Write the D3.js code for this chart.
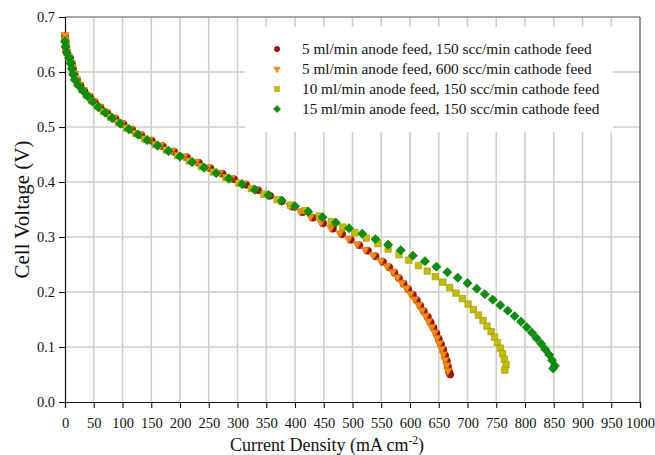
<!DOCTYPE html>
<html>
<head>
<meta charset="utf-8">
<script src="https://cdn.jsdelivr.net/npm/d3@7"></script>
<style>
  body { margin: 0; background: #fff; }
  svg text { font-family: "Liberation Serif", "Times New Roman", Times, serif; fill: #111; }
</style>
</head>
<body>
<svg id="chart" width="655" height="455"></svg>
<script>
// Axis ticks
const xTickValues = [0, 50, 100, 150, 200, 250, 300, 350, 400, 450, 500, 550, 600, 650, 700, 750, 800, 850, 900, 950, 1000];
const yTickValues = [0.0, 0.1, 0.2, 0.3, 0.4, 0.5, 0.6, 0.7];
const yTickLabels = ["0.0", "0.1", "0.2", "0.3", "0.4", "0.5", "0.6", "0.7"];

// Series labels
const seriesNames = [
  "5 ml/min anode feed, 150 scc/min cathode feed",
  "5 ml/min anode feed, 600 scc/min cathode feed",
  "10 ml/min anode feed, 150 scc/min cathode feed",
  "15 ml/min anode feed, 150 scc/min cathode feed"
];

// 5 ml/min anode, 150 scc/min cathode: current density (mA cm-2) and cell voltage (V)
const a5c150Current = [0, 1, 1, 3, 9, 12, 14, 17, 21, 27, 34, 43, 52, 62, 74, 88, 102, 117, 133, 151, 170, 190, 212, 233, 253, 274, 294, 315, 336, 357, 377, 396, 413, 431, 449, 466, 482, 497, 512, 527, 540, 553, 564, 573, 581, 589, 597, 605, 612, 618, 624, 631, 636, 641, 646, 650, 654, 658, 661, 664, 666, 668, 670];
const a5c150Voltage = [0.665, 0.655, 0.645, 0.635, 0.625, 0.615, 0.605, 0.595, 0.585, 0.575, 0.565, 0.555, 0.545, 0.535, 0.525, 0.515, 0.505, 0.495, 0.485, 0.475, 0.465, 0.455, 0.445, 0.435, 0.425, 0.415, 0.405, 0.395, 0.385, 0.375, 0.365, 0.355, 0.345, 0.335, 0.325, 0.315, 0.305, 0.295, 0.285, 0.275, 0.265, 0.255, 0.245, 0.235, 0.225, 0.215, 0.205, 0.195, 0.185, 0.175, 0.165, 0.155, 0.145, 0.135, 0.125, 0.115, 0.105, 0.095, 0.085, 0.075, 0.065, 0.055, 0.050];

// 5 ml/min anode, 600 scc/min cathode
const a5c600Current = [0, 1, 2, 3, 7, 11, 13, 16, 20, 25, 32, 41, 50, 60, 71, 85, 99, 114, 130, 147, 166, 186, 207, 228, 248, 269, 289, 310, 331, 352, 372, 391, 409, 427, 445, 462, 478, 493, 508, 522, 536, 549, 560, 570, 578, 586, 594, 601, 608, 615, 621, 627, 632, 638, 643, 647, 651, 655, 658, 661, 664, 666];
const a5c600Voltage = [0.667, 0.657, 0.647, 0.637, 0.627, 0.617, 0.607, 0.597, 0.587, 0.577, 0.567, 0.557, 0.547, 0.537, 0.527, 0.517, 0.507, 0.497, 0.487, 0.477, 0.467, 0.457, 0.447, 0.437, 0.427, 0.417, 0.407, 0.397, 0.387, 0.377, 0.367, 0.357, 0.347, 0.337, 0.327, 0.317, 0.307, 0.297, 0.287, 0.277, 0.267, 0.257, 0.247, 0.237, 0.227, 0.217, 0.207, 0.197, 0.187, 0.177, 0.167, 0.157, 0.147, 0.137, 0.127, 0.117, 0.107, 0.097, 0.087, 0.077, 0.067, 0.057];

// 10 ml/min anode, 150 scc/min cathode
const a10c150Current = [0, 1, 2, 6, 9, 12, 14, 17, 22, 29, 37, 46, 56, 67, 79, 93, 107, 123, 139, 157, 176, 196, 216, 237, 258, 280, 302, 324, 346, 369, 392, 418, 442, 463, 483, 504, 524, 544, 562, 581, 598, 615, 630, 644, 657, 669, 680, 691, 701, 710, 719, 727, 734, 741, 747, 752, 757, 761, 764, 767, 765];
const a10c150Voltage = [0.658, 0.648, 0.638, 0.628, 0.618, 0.608, 0.598, 0.588, 0.578, 0.568, 0.558, 0.548, 0.538, 0.528, 0.518, 0.508, 0.498, 0.488, 0.478, 0.468, 0.458, 0.448, 0.438, 0.428, 0.418, 0.408, 0.398, 0.388, 0.378, 0.368, 0.358, 0.348, 0.338, 0.328, 0.318, 0.308, 0.298, 0.288, 0.278, 0.268, 0.258, 0.248, 0.238, 0.228, 0.218, 0.208, 0.198, 0.188, 0.178, 0.168, 0.158, 0.148, 0.138, 0.128, 0.118, 0.108, 0.098, 0.088, 0.078, 0.068, 0.058];

// 15 ml/min anode, 150 scc/min cathode
const a15c150Current = [0, 1, 3, 7, 10, 12, 14, 17, 23, 31, 39, 48, 58, 70, 82, 96, 111, 127, 143, 161, 180, 200, 221, 242, 263, 285, 308, 330, 354, 377, 400, 423, 448, 471, 494, 517, 540, 562, 584, 605, 626, 646, 665, 683, 700, 716, 730, 744, 757, 770, 782, 793, 803, 812, 820, 828, 835, 842, 847, 852, 849];
const a15c150Voltage = [0.656, 0.646, 0.636, 0.626, 0.616, 0.606, 0.596, 0.586, 0.576, 0.566, 0.556, 0.546, 0.536, 0.526, 0.516, 0.506, 0.496, 0.486, 0.476, 0.466, 0.456, 0.446, 0.436, 0.426, 0.416, 0.406, 0.396, 0.386, 0.376, 0.366, 0.356, 0.346, 0.336, 0.326, 0.316, 0.306, 0.296, 0.286, 0.276, 0.266, 0.256, 0.246, 0.236, 0.226, 0.216, 0.206, 0.196, 0.186, 0.176, 0.166, 0.156, 0.146, 0.136, 0.126, 0.116, 0.106, 0.096, 0.086, 0.076, 0.066, 0.061];

const margin = { left: 65, right: 15, top: 17, bottom: 53 };
const W = 655, H = 455;
const serif = '"Liberation Serif", "Times New Roman", Times, serif';

const svg = d3.select("#chart");

const x = d3.scaleLinear().domain([0, 1000]).range([margin.left, W - margin.right]);
const y = d3.scaleLinear().domain([0, 0.7]).range([H - margin.bottom, margin.top]);

// Gridlines
const grid = svg.append("g").attr("stroke", "#cfcfc6").attr("stroke-width", 1.6);
grid.selectAll("line.v")
  .data(xTickValues.filter(v => v > 0 && v < 1000))
  .join("line")
  .attr("x1", d => x(d)).attr("x2", d => x(d))
  .attr("y1", y(0)).attr("y2", y(0.7));
grid.selectAll("line.h")
  .data(yTickValues.filter(v => v > 0 && v < 0.7))
  .join("line")
  .attr("y1", d => y(d)).attr("y2", d => y(d))
  .attr("x1", x(0)).attr("x2", x(1000));

// Legend panel
const legend = svg.append("g");
legend.append("rect")
  .attr("x", 245).attr("y", 27).attr("width", 368).attr("height", 105)
  .attr("fill", "#fff");

// Frame: top and right edges
svg.append("line")
  .attr("x1", x(0)).attr("x2", x(1000)).attr("y1", y(0.7)).attr("y2", y(0.7))
  .attr("stroke", "#555").attr("stroke-width", 1.2);
svg.append("line")
  .attr("x1", x(1000)).attr("x2", x(1000)).attr("y1", y(0.7)).attr("y2", y(0))
  .attr("stroke", "#555").attr("stroke-width", 1.2);

// Axes
const xAxis = d3.axisBottom(x).tickValues(xTickValues).tickFormat(d3.format("d")).tickSizeOuter(0).tickSize(6).tickPadding(10);
const yAxis = d3.axisLeft(y).tickValues(yTickValues).tickFormat((d, i) => yTickLabels[i]).tickSizeOuter(0).tickSize(6).tickPadding(4);

const gx = svg.append("g").attr("transform", `translate(0,${y(0)})`).call(xAxis);
const gy = svg.append("g").attr("transform", `translate(${x(0)},0)`).call(yAxis);
[gx, gy].forEach(g => {
  g.attr("font-family", serif);
  g.select(".domain").attr("stroke", "#111").attr("stroke-width", 1.2);
  g.selectAll(".tick line").attr("stroke", "#111").attr("stroke-width", 1.1);
  g.selectAll(".tick text").attr("font-size", 14.5).attr("fill", "#111").attr("font-family", serif);
});

// Axis titles
svg.append("text")
  .attr("x", 327).attr("y", 451)
  .attr("text-anchor", "middle").attr("font-size", 18)
  .call(t => {
    t.append("tspan").text("Current Density (mA cm");
    t.append("tspan").attr("dy", -7).attr("font-size", 11.5).text("-2");
    t.append("tspan").attr("dy", 7).text(")");
  });
svg.append("text")
  .attr("transform", `translate(29,${(y(0) + y(0.7)) / 2}) rotate(-90)`)
  .attr("text-anchor", "middle").attr("font-size", 21)
  .text("Cell Voltage (V)");

// Series styles
const series = [
  { name: seriesNames[0], I: a5c150Current, V: a5c150Voltage, shape: d3.symbolCircle, size: 40, rot: 0, fill: "#a30f0a", stroke: "#7a0a05" },
  { name: seriesNames[1], I: a5c600Current, V: a5c600Voltage, shape: d3.symbolTriangle, size: 30, rot: 180, fill: "#f58a10", stroke: "#d06d00" },
  { name: seriesNames[2], I: a10c150Current, V: a10c150Voltage, shape: d3.symbolSquare, size: 42, rot: 0, fill: "#c2bf00", stroke: "#999600" },
  { name: seriesNames[3], I: a15c150Current, V: a15c150Voltage, shape: d3.symbolSquare, size: 42, rot: 45, fill: "#0a900a", stroke: "#067006" }
];

series.forEach(s => {
  const pts = s.I.map((c, i) => [c, s.V[i]]);
  svg.append("g").selectAll("path")
    .data(pts)
    .join("path")
    .attr("d", d3.symbol().type(s.shape).size(s.size))
    .attr("transform", d => `translate(${x(d[0])},${y(d[1])}) rotate(${s.rot})`)
    .attr("fill", s.fill)
    .attr("stroke", s.stroke)
    .attr("stroke-width", 0.6);
});

// Legend entries
series.forEach((s, i) => {
  const cy = 49 + i * 20;
  legend.append("path")
    .attr("d", d3.symbol().type(s.shape).size(s.size * 0.6))
    .attr("transform", `translate(277,${cy}) rotate(${s.rot})`)
    .attr("fill", s.fill).attr("stroke", s.stroke).attr("stroke-width", 0.5);
  legend.append("text")
    .attr("x", 302).attr("y", cy + 5)
    .attr("font-size", 15.3)
    .text(s.name);
});
</script>
</body>
</html>
